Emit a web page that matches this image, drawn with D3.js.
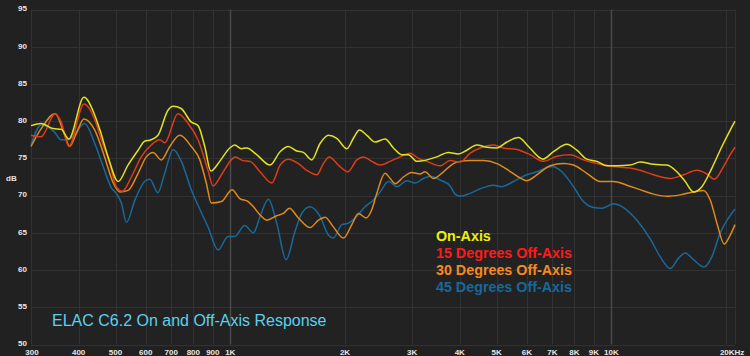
<!DOCTYPE html>
<html>
<head>
<meta charset="utf-8">
<script src="https://cdn.jsdelivr.net/npm/d3@7"></script>
<style>
  html, body { margin: 0; padding: 0; background: #212121; }
  svg { display: block; }
</style>
</head>
<body>
<svg id="chart" width="750" height="356"></svg>
<script>
// ---------- DATA ----------
const xTickValues = [300, 400, 500, 600, 700, 800, 900, 1000, 2000, 3000, 4000, 5000, 6000, 7000, 8000, 9000, 10000, 20000];
const xTickLabels = ["300", "400", "500", "600", "700", "800", "900", "1K", "2K", "3K", "4K", "5K", "6K", "7K", "8K", "9K", "10K", "20KHz"];
const yTickValues = [50, 55, 60, 65, 70, 75, 80, 85, 90, 95];

const seriesNames = ["On-Axis", "15 Degrees Off-Axis", "30 Degrees Off-Axis", "45 Degrees Off-Axis"];

const onAxis = [[300,79.4],[319,79.7],[343,79.0],[360,78.9],[377,77.6],[413,83.2],[441,80.8],[455,78.8],[478,75.2],[508,71.9],[539,74.1],[573,76.1],[596,77.3],[620,77.5],[646,78.1],[687,81.5],[708,82.0],[743,81.7],[789,79.9],[823,79.4],[857,76.6],[889,73.3],[938,74.6],[997,76.4],[1027,76.8],[1069,76.3],[1105,76.4],[1173,75.5],[1272,74.1],[1351,75.9],[1420,76.6],[1494,76.0],[1555,75.8],[1636,74.8],[1720,77.0],[1809,78.1],[1903,77.7],[2022,76.3],[2104,77.7],[2182,78.8],[2282,78.1],[2399,77.2],[2548,77.6],[2680,76.4],[2819,75.5],[2933,75.5],[3086,74.6],[3279,74.8],[3483,75.2],[3736,75.8],[3968,75.6],[4176,76.1],[4436,76.8],[4712,76.5],[5006,76.4],[5318,77.2],[5704,77.8],[6058,76.6],[6608,74.9],[7047,75.9],[7640,76.9],[8117,76.1],[8621,74.9],[9160,74.6],[9730,74.0],[10337,74.0],[11200,74.1],[11898,74.5],[12896,74.2],[13983,74.1],[14856,73.2],[15617,71.9],[16421,70.5],[17275,71.2],[18352,73.7],[19498,76.6],[20498,78.8],[21100,80.0]];

const offAxis15 = [[300,78.1],[319,77.9],[347,81.0],[360,79.9],[377,76.6],[413,82.3],[441,80.2],[459,77.5],[483,74.3],[502,71.2],[521,70.6],[550,72.5],[584,75.2],[620,76.8],[653,77.5],[673,77.1],[729,81.0],[775,79.7],[823,77.5],[874,73.4],[901,71.3],[948,72.8],[1006,74.8],[1031,75.2],[1080,74.7],[1127,74.6],[1197,73.2],[1285,71.7],[1351,74.1],[1420,74.9],[1509,74.3],[1587,73.4],[1687,72.8],[1755,74.3],[1819,75.2],[1922,74.1],[2034,73.2],[2148,74.8],[2235,75.2],[2351,74.6],[2473,74.1],[2627,74.6],[2790,75.2],[2964,75.7],[3117,75.0],[3279,74.6],[3553,74.0],[3774,74.7],[4010,74.5],[4259,75.7],[4525,76.4],[4904,76.8],[5209,76.4],[5649,76.2],[6121,75.5],[6632,74.6],[7193,75.3],[7795,75.5],[8446,74.8],[9160,74.3],[10126,73.9],[11200,73.7],[11898,73.4],[12896,72.8],[14266,72.3],[15459,72.8],[16761,73.4],[17807,72.9],[18612,72.2],[19688,73.9],[20498,75.5],[21100,76.5]];

const offAxis30 = [[300,76.6],[319,79.0],[347,81.0],[368,78.1],[379,76.6],[395,78.4],[413,80.3],[441,78.8],[468,75.2],[493,71.7],[513,70.5],[539,70.7],[573,73.0],[602,75.2],[627,75.8],[659,74.8],[694,76.6],[737,78.1],[790,76.6],[832,74.8],[865,71.7],[892,69.0],[948,69.2],[1011,70.8],[1059,69.6],[1114,69.2],[1150,68.5],[1197,67.4],[1246,66.7],[1324,67.3],[1378,67.6],[1429,68.3],[1509,67.0],[1619,65.7],[1703,66.7],[1773,67.1],[1864,65.8],[1981,64.3],[2084,66.1],[2169,67.6],[2272,67.0],[2351,68.1],[2423,70.3],[2548,73.0],[2627,72.3],[2708,71.6],[2846,72.5],[2994,73.1],[3148,72.9],[3244,73.2],[3412,72.3],[3625,73.2],[3850,74.3],[4010,74.6],[4259,74.7],[4616,74.7],[5006,74.3],[5370,73.4],[5704,72.5],[6000,72.0],[6373,72.8],[6907,74.0],[7485,74.3],[7953,74.1],[8621,73.0],[9344,71.9],[10126,71.9],[10980,71.4],[11898,70.8],[12896,70.2],[13983,69.9],[15152,70.1],[16421,70.5],[17444,70.7],[18168,69.4],[18918,66.3],[19770,63.5],[20413,64.5],[21100,66.1]];

const offAxis45 = [[300,76.8],[319,79.5],[345,78.6],[360,77.5],[376,77.5],[415,79.7],[441,77.0],[464,73.9],[488,71.0],[502,70.3],[518,69.0],[534,66.4],[562,69.4],[596,71.9],[615,72.2],[646,70.4],[673,73.0],[708,76.2],[744,74.6],[790,70.8],[823,68.7],[874,65.8],[929,62.7],[987,64.5],[1027,64.5],[1091,66.0],[1150,65.0],[1197,67.2],[1259,69.5],[1324,66.3],[1401,61.4],[1479,65.2],[1540,67.6],[1619,68.5],[1720,67.2],[1809,64.7],[1864,64.3],[1962,66.1],[2041,66.3],[2126,67.0],[2258,68.5],[2374,69.4],[2473,70.5],[2600,71.9],[2735,71.2],[2905,72.0],[3055,71.7],[3212,72.3],[3344,72.6],[3553,72.1],[3774,71.3],[3890,70.2],[4010,69.9],[4259,70.3],[4571,71.0],[4904,71.4],[5159,71.2],[5534,71.9],[6000,72.8],[6373,73.2],[6978,73.9],[7413,73.2],[7953,71.2],[8446,69.2],[8974,68.4],[9440,68.3],[10126,68.9],[10757,68.4],[11665,66.7],[12643,64.2],[13428,61.8],[14266,60.2],[14999,61.6],[15617,62.3],[16421,61.4],[17519,60.4],[18352,61.8],[19299,65.0],[20170,66.8],[21100,68.2]];

const chartTitle = "ELAC C6.2 On and Off-Axis Response";

// ---------- LAYOUT ----------
const seriesData = [onAxis, offAxis15, offAxis30, offAxis45];
const lineColors = ["#e2e21e", "#df3c17", "#e0891c", "#19699a"];
const legendColors = ["#f0f000", "#ff1a1a", "#f58a1f", "#17699a"];

const plot = { left: 31, right: 735, top: 9.5, bottom: 344.5 };

const svg = d3.select("#chart");
const x = d3.scaleLog().domain([300, 21100]).range([plot.left, plot.right]);
const y = d3.scaleLinear().domain([50, 95]).range([plot.bottom, plot.top]);

svg.append("rect").attr("x", 0).attr("y", 0).attr("width", 750).attr("height", 356).attr("fill", "#212121");
svg.append("rect").attr("x", plot.left).attr("y", plot.top).attr("width", plot.right - plot.left)
  .attr("height", plot.bottom - plot.top).attr("fill", "#222222");

// horizontal grid
svg.append("g").selectAll("line").data(yTickValues).join("line")
  .attr("x1", plot.left).attr("x2", plot.right)
  .attr("y1", d => Math.round(y(d)) + 0.5).attr("y2", d => Math.round(y(d)) + 0.5)
  .attr("stroke", "#323232").attr("stroke-width", 1);

// vertical grid
svg.append("g").selectAll("line").data(xTickValues).join("line")
  .attr("x1", d => Math.round(x(d)) + 0.5).attr("x2", d => Math.round(x(d)) + 0.5)
  .attr("y1", plot.top).attr("y2", plot.bottom)
  .attr("stroke", d => (d === 1000 || d === 10000) ? "#4a4a4a" : "#323232")
  .attr("stroke-width", d => (d === 1000 || d === 10000) ? 1.5 : 1);

// right border
svg.append("line").attr("x1", plot.right + 0.5).attr("x2", plot.right + 0.5)
  .attr("y1", plot.top).attr("y2", plot.bottom).attr("stroke", "#303030");

// y tick labels
svg.append("g").selectAll("text").data(yTickValues).join("text")
  .attr("x", 27).attr("y", d => y(d) - 1).attr("dy", "0.35em")
  .attr("text-anchor", "end")
  .attr("font-family", "Liberation Sans, Arial, sans-serif").attr("font-weight", "bold")
  .attr("font-size", 8).attr("fill", "#e6e6e6")
  .text(d => d);

svg.append("text").attr("x", 6).attr("y", 178).attr("dy", "0.35em")
  .attr("font-family", "Liberation Sans, Arial, sans-serif").attr("font-weight", "bold")
  .attr("font-size", 8).attr("fill", "#e6e6e6").text("dB");

// x tick labels
svg.append("g").selectAll("text").data(xTickValues).join("text")
  .attr("x", (d, i) => x(d) + (i === xTickValues.length - 1 ? 6 : 0) + (i === 0 ? 1 : 0))
  .attr("y", 355)
  .attr("text-anchor", "middle")
  .attr("font-family", "Liberation Sans, Arial, sans-serif").attr("font-weight", "bold")
  .attr("font-size", 8).attr("fill", "#e6e6e6")
  .text((d, i) => xTickLabels[i]);

// lines
const line = d3.line().x(d => x(d[0])).y(d => y(d[1])).curve(d3.curveMonotoneX);
const order = [3, 2, 1, 0];
svg.append("g").selectAll("path").data(order).join("path")
  .attr("d", i => line(seriesData[i]))
  .attr("fill", "none")
  .attr("stroke", i => lineColors[i])
  .attr("stroke-width", 1.5)
  .attr("stroke-linejoin", "round");

// legend
svg.append("g").selectAll("text").data(seriesNames).join("text")
  .attr("x", 436).attr("y", (d, i) => 240.5 + i * 17)
  .attr("font-family", "Liberation Sans, Arial, sans-serif").attr("font-weight", "bold")
  .attr("font-size", 14.3)
  .attr("fill", (d, i) => legendColors[i])
  .text(d => d);

// title
svg.append("text").attr("x", 52).attr("y", 325.5)
  .attr("font-family", "Liberation Sans, Arial, sans-serif")
  .attr("font-size", 16).attr("fill", "#5cd0ee")
  .text(chartTitle);
</script>
</body>
</html>
